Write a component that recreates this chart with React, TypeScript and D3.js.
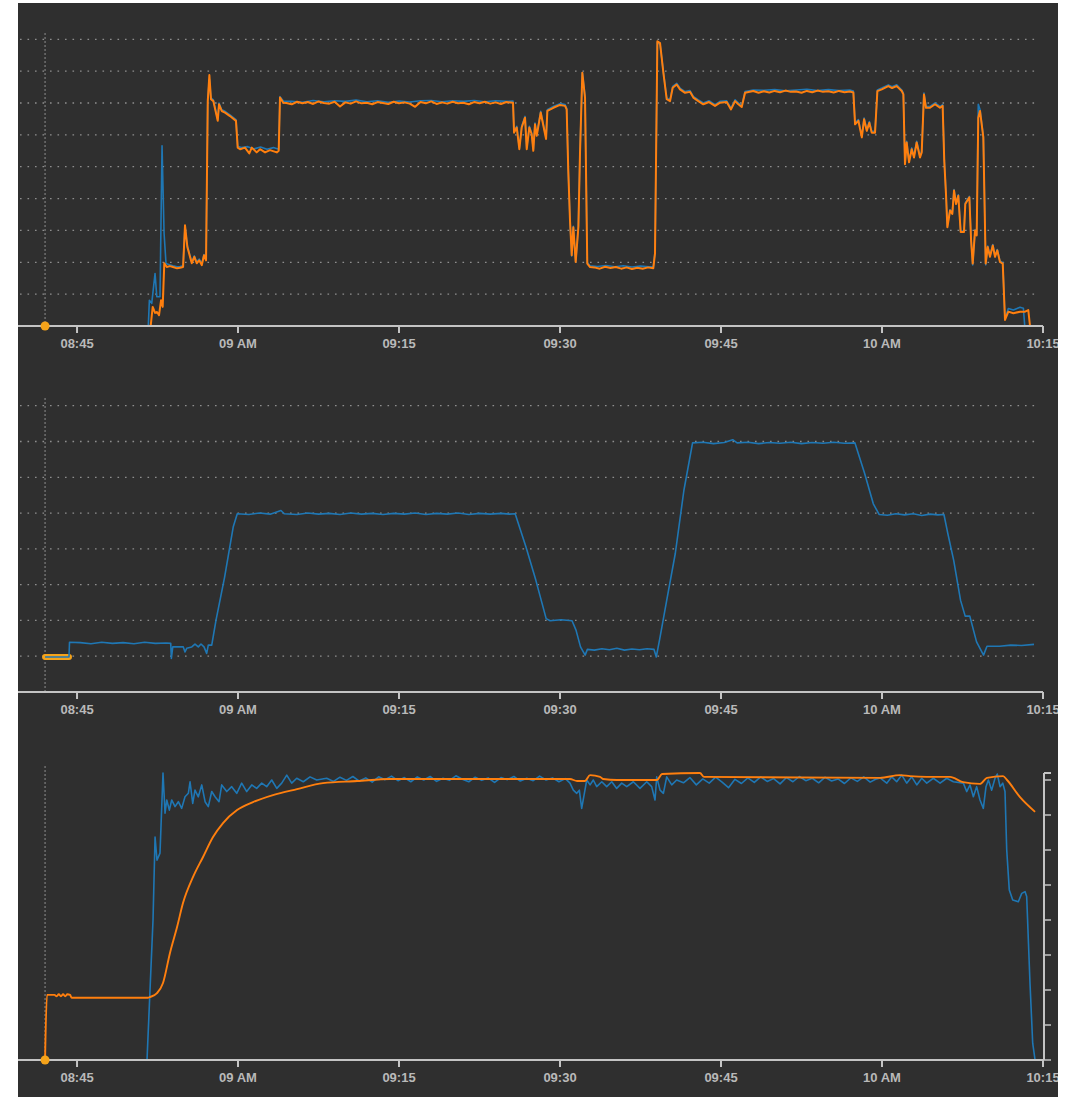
import React from "react";
import * as d3 from "d3";

// time is expressed in minutes after 08:00
const tickMinutes = [45, 60, 75, 90, 105, 120, 135];
const tickLabels = ["08:45", "09 AM", "09:15", "09:30", "09:45", "10 AM", "10:15"];
const cursorMinute = 42.02;

const p1Grid = [10, 20, 30, 40, 50, 60, 70, 80, 90];
const p2Grid = [10, 20, 30, 40, 50, 60, 70, 80];
const p3RightTicks = [0, 10, 20, 30, 40, 50, 60, 70, 80];

const p1Orange: [number, number][] = [
  [42.02, 0], [51.8, 0], [51.87, 0.3], [52.05, 6.0], [52.27, 4.1], [52.45, 4.4], [52.64, 3.4], [52.83, 8.1], [52.98, 6.0],
  [53.13, 19.7], [53.36, 18.5], [53.65, 18.8], [53.94, 18.5], [54.32, 18.1], [54.6, 18.3], [54.88, 18.5], [55.06, 31.6],
  [55.28, 24.8], [55.53, 21.7], [55.69, 19.7], [55.93, 21.7], [56.15, 19.7], [56.39, 20.6], [56.62, 19.1], [56.83, 22.2],
  [57.02, 20.6], [57.18, 70.6], [57.33, 78.8], [57.48, 71.2], [57.7, 70.6], [58.11, 64.4], [58.23, 69.6], [58.48, 67.5],
  [58.79, 67.0], [59.25, 65.9], [59.81, 64.4], [59.97, 56.0], [60.19, 55.5], [60.65, 56.0], [61.05, 54.2], [61.28, 56.0],
  [61.74, 54.5], [62.05, 55.5], [62.52, 54.5], [62.98, 55.2], [63.61, 54.5], [63.79, 55.0], [63.91, 71.7], [64.22, 70.1],
  [64.5, 70.0], [65.0, 69.6], [65.5, 70.4], [66.0, 69.9], [66.5, 70.3], [67.0, 69.7], [67.5, 70.5], [68.0, 70.0], [68.5, 69.8],
  [69.0, 70.4], [69.5, 68.9], [70.0, 70.2], [70.5, 69.8], [71.0, 70.5], [71.5, 69.9], [72.0, 70.1], [72.5, 69.6], [73.0, 70.3],
  [73.5, 70.0], [74.0, 69.7], [74.5, 70.4], [75.0, 69.9], [75.5, 70.2], [76.0, 69.8], [76.5, 68.8], [77.0, 70.3], [77.5, 69.9],
  [78.0, 70.5], [78.5, 69.7], [79.0, 70.2], [79.5, 69.8], [80.0, 70.4], [80.5, 69.9], [81.0, 70.1], [81.5, 69.6], [82.0, 70.3],
  [82.5, 69.9], [83.0, 70.4], [83.5, 69.8], [84.0, 70.2], [84.5, 69.7], [85.0, 70.3], [85.62, 70.1],
  [85.72, 60.7], [85.97, 62.3], [86.21, 55.5], [86.43, 62.3], [86.74, 65.4], [86.9, 55.5], [87.14, 62.3], [87.36, 60.2],
  [87.51, 55.0], [87.67, 63.3], [87.83, 59.7], [88.2, 67.0], [88.7, 58.7], [88.82, 67.5], [89.38, 68.5], [90.0, 69.4],
  [90.47, 69.1], [90.62, 68.0], [90.77, 48.75], [90.93, 33.1], [91.09, 22.2], [91.24, 31.0], [91.46, 20.1], [91.71, 31.0],
  [91.86, 54.0], [92.08, 79.5], [92.33, 71.7], [92.54, 19.6], [92.8, 18.5],
  [93.2, 18.4], [93.7, 18.0], [94.2, 18.6], [94.7, 18.2], [95.2, 18.5], [95.7, 18.0], [96.2, 18.4], [96.7, 17.9], [97.2, 18.3],
  [97.7, 18.0], [98.2, 18.4], [98.69, 18.1],
  [98.85, 22.8], [99.07, 89.4], [99.32, 88.8], [99.63, 79.5], [99.94, 71.2], [100.25, 70.6], [100.5, 74.8], [100.87, 75.8],
  [101.18, 74.3], [101.65, 73.2], [102.11, 73.5], [102.42, 71.7], [102.89, 70.6], [103.35, 69.6], [103.88, 70.3],
  [104.44, 69.1], [104.91, 70.1], [105.53, 70.3], [105.93, 68.0], [106.31, 70.6], [106.59, 69.7], [106.93, 68.75],
  [107.24, 73.2], [108.01, 73.75],
  [108.5, 73.2], [109.0, 73.7], [109.5, 73.3], [110.0, 73.8], [110.5, 73.4], [111.0, 73.9], [111.5, 73.5], [112.0, 73.6],
  [112.5, 73.2], [113.0, 73.8], [113.5, 73.4], [114.0, 73.9], [114.5, 73.5], [115.0, 73.7], [115.5, 73.3], [116.0, 73.8],
  [116.5, 73.4], [117.0, 73.6], [117.33, 73.3],
  [117.49, 63.3], [117.8, 64.4], [118.12, 59.2], [118.33, 64.9], [118.58, 61.25], [118.82, 63.8], [119.04, 60.7],
  [119.35, 60.7], [119.57, 73.75], [119.98, 74.3], [120.59, 75.3], [120.94, 74.7], [121.37, 75.3], [121.84, 73.75],
  [121.99, 72.7], [122.14, 50.8], [122.3, 57.6], [122.52, 51.4], [122.77, 55.5], [122.98, 52.9], [123.23, 57.6],
  [123.54, 52.9], [123.7, 54.5], [123.91, 72.7], [124.1, 68.5], [124.47, 68.5], [124.94, 69.6], [125.4, 68.5],
  [125.65, 69.1], [125.8, 51.9], [125.96, 41.5], [126.09, 31.0], [126.34, 36.25], [126.55, 35.2], [126.71, 42.5],
  [126.9, 38.3], [127.11, 40.9], [127.33, 29.5], [127.64, 29.5], [127.76, 38.3], [128.14, 40.4], [128.3, 26.9],
  [128.45, 19.6], [128.67, 30.0], [128.82, 28.4], [128.97, 65.4], [129.13, 67.5], [129.44, 59.2], [129.66, 19.6],
  [129.85, 24.8], [130.06, 21.7], [130.32, 25.3], [130.53, 21.7], [130.74, 23.75], [130.99, 20.1], [131.25, 19.6],
  [131.46, 1.9], [131.77, 4.5], [132.24, 4.0], [132.86, 4.5], [133.33, 4.5], [133.63, 5.0], [133.79, 0], [134.26, 0],
];

const p1Blue: [number, number][] = [
  [42.02, 0], [51.64, 0], [51.74, 8.1], [51.96, 7.1], [52.27, 16.5], [52.43, 9.2], [52.73, 9.2], [52.92, 56.6], [53.11, 29.1],
  [53.29, 19.6], [53.6, 19.2], [53.94, 18.9], [54.32, 18.6], [54.6, 18.7], [54.88, 18.9], [55.06, 31.2], [55.28, 25.2],
  [55.53, 22.1], [55.69, 20.1], [55.93, 22.0], [56.15, 20.1], [56.39, 21.0], [56.62, 19.6], [56.83, 22.4], [57.02, 21.0],
  [57.18, 70.9], [57.33, 77.5], [57.48, 71.6], [57.7, 71.0], [58.11, 64.9], [58.23, 70.0], [58.48, 67.9], [58.79, 67.4],
  [59.25, 66.3], [59.81, 64.8], [59.97, 56.4], [60.3, 56.0], [60.9, 56.3], [61.5, 55.6], [62.1, 56.2], [62.7, 55.5],
  [63.3, 56.0], [63.79, 55.5], [63.91, 72.0], [64.22, 70.6],
  [65, 70.5], [66, 70.2], [67, 70.8], [68, 70.4], [69, 70.7], [70, 70.5], [71, 70.9], [72, 70.4], [73, 70.7], [74, 70.2],
  [75, 70.6], [76, 70.3], [77, 70.7], [78, 70.8], [79, 70.4], [80, 70.7], [81, 70.5], [82, 70.8], [83, 70.4], [84, 70.7],
  [85, 70.5], [85.62, 70.6],
  [85.72, 61.1], [85.97, 62.7], [86.21, 55.9], [86.43, 62.7], [86.74, 65.8], [86.9, 55.9], [87.14, 62.7], [87.36, 60.6],
  [87.51, 55.4], [87.67, 63.7], [87.83, 60.1], [88.2, 67.4], [88.7, 59.1], [88.82, 67.9], [89.38, 68.9], [90.0, 69.8],
  [90.47, 69.5], [90.62, 68.3], [90.77, 49.0], [90.93, 33.4], [91.09, 22.0], [91.24, 31.3], [91.46, 20.0], [91.71, 31.3],
  [91.86, 54.3], [92.08, 79.6], [92.33, 72.0], [92.54, 19.9], [92.8, 18.9],
  [93.5, 18.7], [94.3, 19.0], [95.1, 18.6], [95.9, 18.9], [96.7, 18.5], [97.5, 18.8], [98.3, 18.6], [98.69, 18.7],
  [98.85, 23.1], [99.07, 89.0], [99.32, 88.4], [99.63, 79.8], [99.94, 71.6], [100.25, 71.0], [100.5, 75.2], [100.87, 76.2],
  [101.18, 74.7], [101.65, 73.6], [102.11, 73.9], [102.42, 72.1], [102.89, 71.0], [103.35, 70.0], [103.88, 70.7],
  [104.44, 69.5], [104.91, 70.5], [105.53, 70.7], [105.93, 68.4], [106.31, 71.0], [106.59, 70.1], [106.93, 69.1],
  [107.24, 73.6], [108.01, 74.1],
  [109, 74.0], [110, 74.2], [111, 73.8], [112, 74.1], [113, 74.3], [114, 73.9], [115, 74.2], [116, 73.9], [117, 74.1],
  [117.33, 73.8],
  [117.49, 63.7], [117.8, 64.8], [118.12, 59.6], [118.33, 65.3], [118.58, 61.65], [118.82, 64.2], [119.04, 61.1],
  [119.35, 61.1], [119.57, 74.1], [119.98, 74.7], [120.59, 75.7], [120.94, 75.1], [121.37, 75.7], [121.84, 74.1],
  [121.99, 73.1], [122.14, 51.2], [122.3, 58.0], [122.52, 51.8], [122.77, 55.9], [122.98, 53.3], [123.23, 58.0],
  [123.54, 53.3], [123.7, 54.9], [123.91, 73.1], [124.1, 68.9], [124.47, 68.9], [124.94, 70.0], [125.4, 68.9],
  [125.65, 69.5], [125.8, 52.2], [125.96, 41.8], [126.09, 31.3], [126.34, 36.5], [126.55, 35.5], [126.71, 42.8],
  [126.9, 38.6], [127.11, 41.2], [127.33, 29.8], [127.64, 29.8], [127.76, 38.6], [128.14, 40.7], [128.3, 27.2],
  [128.45, 19.2], [128.67, 30.3], [128.82, 28.7], [128.97, 69.6], [129.13, 68.0], [129.44, 59.5], [129.66, 19.2],
  [129.85, 25.1], [130.06, 22.0], [130.32, 25.6], [130.53, 22.0], [130.74, 24.0], [130.99, 20.4], [131.25, 19.9],
  [131.46, 2.2], [131.77, 5.5], [132.24, 5.0], [132.86, 5.9], [133.17, 5.6], [133.3, 0], [134.26, 0],
];

const p2Orange: [number, number][] = [[42.02, 9.76], [44.25, 9.76]];

const p2Blue: [number, number][] = [
  [42.02, 9.76], [44.25, 9.76], [44.3, 13.9], [45.3, 13.8], [46.3, 13.5], [47.3, 13.9], [48.3, 13.6], [49.3, 13.8],
  [50.3, 13.5], [51.3, 13.9], [52.3, 13.6], [53.3, 13.7], [53.73, 13.6], [53.79, 9.4], [53.92, 12.6], [54.9, 12.6],
  [55.06, 11.2], [55.22, 12.2], [55.69, 12.6], [55.99, 13.4], [56.3, 12.6], [56.55, 13.4], [56.83, 12.6], [57.08, 10.8],
  [57.23, 13.1], [57.55, 13.1], [57.95, 20.1], [58.75, 32.1], [59.55, 46.1], [59.93, 49.8],
  [61, 49.6], [62, 50.0], [63, 49.7], [64.0, 50.7], [64.3, 49.8], [65.5, 49.6], [66.5, 50.0], [67.5, 49.7], [68.5, 49.9],
  [69.5, 49.6], [70.5, 50.0], [71.5, 49.7], [72.5, 49.9], [73.5, 49.6], [74.5, 49.9], [75.5, 49.7], [76.5, 50.0],
  [77.5, 49.6], [78.5, 49.9], [79.5, 49.7], [80.5, 50.0], [81.5, 49.6], [82.5, 49.9], [83.5, 49.7], [84.5, 49.9],
  [85.3, 49.7], [85.82, 49.8],
  [86.83, 40.5], [87.75, 31.2], [88.71, 20.5], [89.08, 19.9], [90.1, 20.2], [91.12, 19.9], [91.49, 17.3], [91.91, 12.6],
  [92.34, 10.3], [92.55, 11.9], [93.2, 11.7], [93.9, 12.1], [94.6, 11.8], [95.3, 12.2], [96.0, 11.7], [96.7, 12.0],
  [97.4, 11.8], [98.1, 12.1], [98.76, 11.9], [98.97, 9.8], [99.3, 15.0], [99.94, 25.6], [100.74, 38.7], [101.54, 56.3],
  [102.35, 69.6], [103.3, 69.8], [104.3, 69.4], [105.3, 69.7], [106.09, 70.5], [106.5, 69.6], [107.5, 69.8], [108.5, 69.4],
  [109.5, 69.7], [110.5, 69.5], [111.5, 69.8], [112.5, 69.4], [113.5, 69.7], [114.5, 69.5], [115.5, 69.8], [116.5, 69.5],
  [117.48, 69.6], [118.39, 61.0], [119.19, 52.6], [119.73, 49.6], [120.5, 49.4], [121.3, 49.8], [122.1, 49.5],
  [122.9, 49.8], [123.7, 49.3], [124.5, 49.7], [125.2, 49.5], [125.77, 49.6], [126.14, 44.2], [126.68, 36.8],
  [127.32, 25.6], [127.75, 21.2], [128.18, 21.2], [128.81, 14.0], [129.46, 10.3], [129.78, 12.8], [130.96, 12.8],
  [132.0, 13.1], [133.0, 13.0], [134.16, 13.3],
];

const p3Orange: [number, number][] = [
  [42.02, 0], [42.2, 18.6], [42.9, 18.6], [43.1, 18.2], [43.3, 18.8], [43.5, 18.2], [43.7, 18.8], [43.9, 18.2], [44.1, 18.8],
  [44.35, 18.6], [44.5, 17.8], [51.61, 17.8], [51.8, 18.0], [52.45, 19.1], [53.01, 22.0], [53.66, 30.6], [54.32, 38.0],
  [54.88, 44.9], [55.81, 52.3], [56.74, 58.0], [57.67, 63.7], [58.6, 67.7], [59.91, 71.4], [61.4, 73.7], [63.26, 75.7],
  [65.5, 77.4], [67.92, 79.1], [71.09, 79.7], [74.16, 80.3], [82.55, 80.3], [90.93, 80.3], [91.59, 79.7], [92.33, 79.7],
  [92.8, 81.4], [93.73, 80.9], [94.01, 80.3], [95.31, 80.0], [99.04, 80.0], [99.5, 81.7], [103.04, 82.0], [103.42, 80.9],
  [119.82, 80.6], [121.68, 81.4], [122.61, 81.1], [124.19, 80.9], [126.34, 80.9], [127.55, 79.4], [129.13, 78.9],
  [129.78, 80.6], [131.28, 81.1], [131.65, 80.0], [132.86, 75.1], [134.26, 70.9],
];

const p3Blue: [number, number][] = [
  [42.02, 0], [51.52, 0], [52.08, 40], [52.27, 63.7], [52.45, 57.1], [52.73, 59.1], [53.01, 82], [53.2, 70.5],
  [53.36, 74.3], [53.6, 71.4], [53.82, 74.3], [54.13, 72.4], [54.44, 73.8], [54.75, 71.9], [55.06, 75.2], [55.37, 76.2],
  [55.53, 79.5], [55.78, 73.3], [55.99, 77.1], [56.3, 75.2], [56.62, 78.6], [56.93, 73.8], [57.23, 72.4], [57.55, 76.7],
  [57.86, 75.2], [58.23, 73.8], [58.48, 78.6], [58.95, 76.7], [59.41, 78.1], [59.88, 76.2], [60.34, 79.1], [60.81, 76.7],
  [61.28, 78.6], [61.74, 77.6], [62.21, 79.1], [62.67, 78.1], [63.14, 80], [63.61, 77.6], [64.07, 79.1], [64.54, 81.4],
  [65.0, 79.1], [65.47, 80.5], [66.08, 79.5], [66.71, 80.9], [67.33, 80], [68.26, 80.5],
  [68.9, 79.6], [69.5, 80.8], [70.1, 79.9], [70.7, 81.0], [71.3, 79.7], [71.9, 80.6], [72.5, 79.4], [73.1, 80.9],
  [73.7, 80.1], [74.3, 81.1], [74.9, 79.8], [75.5, 80.7], [76.1, 79.5], [76.7, 80.9], [77.3, 80.0], [77.9, 81.0],
  [78.5, 79.6], [79.1, 80.5], [79.7, 79.9], [80.3, 81.2], [80.9, 80.2], [81.5, 79.5], [82.1, 80.8], [82.7, 79.9],
  [83.3, 80.6], [83.9, 79.3], [84.5, 80.7], [85.1, 80.1], [85.7, 81.0], [86.3, 79.7], [86.9, 80.5], [87.5, 79.8],
  [88.1, 81.1], [88.7, 80.0], [89.3, 80.6], [89.9, 79.5], [90.5, 80.4],
  [90.93, 79.1], [91.24, 77.1], [91.56, 76.2], [91.8, 77.1], [92.02, 71.9], [92.24, 75.7], [92.49, 80], [92.8, 78.6],
  [93.1, 80], [93.42, 78.1], [93.89, 79.5], [94.35, 78.1], [94.82, 79.5], [95.28, 77.6], [95.75, 79.1], [96.22, 78.1],
  [96.83, 79.5], [97.45, 77.6], [98.08, 79.5], [98.54, 78.1], [98.85, 74.3], [99.01, 80.9], [99.32, 77.1], [99.63, 76.2],
  [99.94, 80.9], [100.41, 78.6], [100.87, 80],
  [101.5, 79.2], [102.1, 80.7], [102.7, 78.6], [103.3, 80.3], [103.9, 79.1], [104.5, 80.8], [105.1, 79.4], [105.7, 77.8],
  [106.3, 80.2], [106.9, 79.0], [107.5, 80.6], [108.1, 79.3], [108.7, 80.9], [109.3, 79.6], [109.9, 80.4], [110.5, 78.9],
  [111.1, 80.7], [111.7, 79.5], [112.3, 81.0], [112.9, 79.8], [113.5, 80.5], [114.1, 79.2], [114.7, 80.8], [115.3, 79.7],
  [115.9, 80.3], [116.5, 79.0], [117.1, 80.6], [117.7, 79.6], [118.3, 80.9], [118.9, 79.4], [119.4, 80.2],
  [119.82, 80.6], [120.44, 79.1], [120.91, 80.9], [121.37, 79.5], [121.84, 81.4], [122.3, 79.1], [122.77, 80.9],
  [123.24, 78.6], [123.7, 80.5], [124.17, 79.1], [124.78, 80.5], [125.41, 79.1], [126.03, 80.5], [126.65, 79.5],
  [127.58, 79.1], [127.89, 76.7], [128.2, 78.6], [128.51, 75.2], [128.82, 78.1], [129.13, 74.3], [129.44, 71.9],
  [129.69, 78.1], [129.91, 80], [130.22, 77.1], [130.53, 80.5], [130.74, 81.7], [131.0, 78.1], [131.25, 79.1],
  [131.46, 76.7], [131.62, 60], [131.86, 48.6], [132.18, 45.7], [132.7, 45.2], [133.02, 47.6], [133.33, 48.1],
  [133.48, 46.7], [133.79, 21.9], [134.04, 4.8], [134.26, 0],
];

const BLUE = "#1f77b4";
const ORANGE = "#ff7f0e";
const MARKER = "#f5a31a";
const AXIS = "#c4c4c4";
const GRID = "#8e8e8e";
const LABEL = "#b9b9b9";
const BG = "#2f2f2f";

const toDate = (m: number) => new Date(2021, 0, 1, 8, 0, 0, Math.round(m * 60000));

export default function App() {
  const W = 1071;
  const H = 1097;
  const left = 18;
  const right = 1043;
  const x = d3.scaleTime().domain([toDate(39.5), toDate(135)]).range([left, right]);

  const y1 = d3.scaleLinear().domain([0, 90]).range([326, 39.3]);
  const y2 = d3.scaleLinear().domain([0, 80]).range([692, 405.7]);
  const y3 = d3.scaleLinear().domain([0, 80]).range([1060, 780]);

  const mk = (y: d3.ScaleLinear<number, number>, smooth = false) => {
    const l = d3.line<[number, number]>().x((d) => x(toDate(d[0]))).y((d) => y(d[1]));
    return smooth ? l.curve(d3.curveMonotoneX) : l;
  };

  const panels = [
    { y: y1, grid: p1Grid, top: 33, axisRightEnd: right, series: [[p1Blue, BLUE, 1.6, false], [p1Orange, ORANGE, 2, false]], marker: true },
    { y: y2, grid: p2Grid, top: 398, axisRightEnd: right, series: [[p2Blue, BLUE, 1.6, false]], marker: false },
    { y: y3, grid: [] as number[], top: 766, axisRightEnd: 1044, series: [[p3Blue, BLUE, 1.6, false], [p3Orange, ORANGE, 1.9, true]], marker: true },
  ] as const;

  const cx = x(toDate(cursorMinute));

  return (
    <svg width={W} height={H} style={{ position: "absolute", left: 0, top: 0 }}>
      <defs>
        <clipPath id="panelClip">
          <rect x={18} y={3} width={1040} height={1094} />
        </clipPath>
      </defs>
      <rect x={18} y={3} width={1040} height={1094} fill={BG} />
      <g clipPath="url(#panelClip)" fontFamily="'Liberation Sans', Arial, sans-serif">
        {panels.map((p, i) => {
          const axisY = p.y(0);
          const line = mk(p.y);
          return (
            <g key={i}>
              {p.grid.map((g) => (
                <line key={g} x1={20} x2={1040} y1={p.y(g)} y2={p.y(g)} stroke={GRID} strokeWidth={1.3} strokeDasharray="1.6 5.9" />
              ))}
              <line x1={cx} x2={cx} y1={p.top} y2={axisY} stroke={GRID} strokeWidth={1} strokeDasharray="2 2" />
              {i === 1 && (
                <path d={line(p2Orange) || ""} fill="none" stroke={MARKER} strokeWidth={6} strokeLinecap="round" />
              )}
              {p.series.map(([data, color, w, smooth], k) => (
                <path key={k} d={mk(p.y, smooth as boolean)(data as [number, number][]) || ""} fill="none" stroke={color as string}
                  strokeWidth={w as number} strokeLinejoin="round" />
              ))}
              <line x1={left} x2={p.axisRightEnd} y1={axisY} y2={axisY} stroke={AXIS} strokeWidth={2} />
              {tickMinutes.map((m, k) => {
                const tx = x(toDate(m));
                return (
                  <g key={k}>
                    <line x1={tx} x2={tx} y1={axisY} y2={axisY + 7} stroke={AXIS} strokeWidth={2} />
                    <text x={tx} y={axisY + 21.5} textAnchor="middle" fontSize={13} fontWeight="bold" fill={LABEL}>{tickLabels[k]}</text>
                  </g>
                );
              })}
              {i === 2 && (
                <g>
                  <line x1={1044} x2={1044} y1={y3(82)} y2={y3(0)} stroke={AXIS} strokeWidth={2} />
                  <line x1={1044} x2={1051} y1={y3(82)} y2={y3(82)} stroke={AXIS} strokeWidth={2} />
                  {p3RightTicks.map((t) => (
                    <line key={t} x1={1044} x2={1051} y1={y3(t)} y2={y3(t)} stroke={AXIS} strokeWidth={1.5} />
                  ))}
                </g>
              )}
              {p.marker && <circle cx={cx} cy={axisY} r={4.5} fill={MARKER} />}
            </g>
          );
        })}
      </g>
    </svg>
  );
}
